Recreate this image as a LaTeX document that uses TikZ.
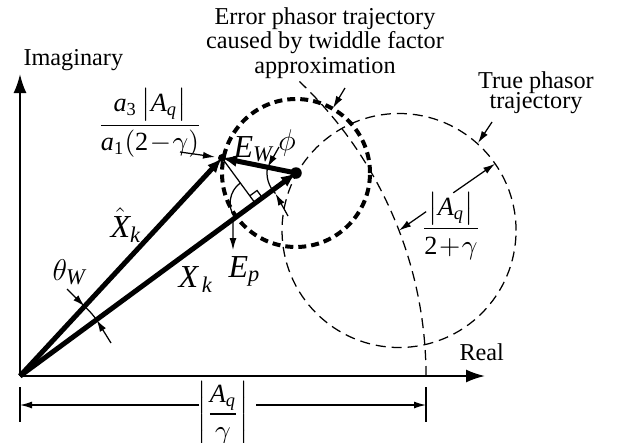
\documentclass[tikz,border=0pt]{standalone}
\usepackage{amsmath}
\usepackage{fontspec}
\setmainfont{Liberation Serif}
\usetikzlibrary{arrows.meta,calc}
\newcommand{\vi}[1]{\textit{#1}}
\begin{document}
\begin{tikzpicture}[x=0.4pt,y=0.4pt,
  axis/.style={line width=0.8pt,-{Latex[length=7.6pt,width=5.2pt]}},
  vec/.style={line width=2pt,-{Latex[length=6pt,width=4.8pt]}},
  thinln/.style={line width=0.5pt},
  ptr/.style={line width=0.5pt,-{Latex[length=4.8pt,width=2.8pt]}},
  trajdash/.style={line width=0.5pt,dash pattern=on 4pt off 2.4pt},
  errdash/.style={line width=1.6pt,dash pattern=on 3.2pt off 2pt},
  txt/.style={font=\fontsize{9.7}{9.8}\selectfont, inner sep=0pt},
  mlab/.style={font=\fontsize{12.8}{14}\selectfont, inner sep=0pt},
  flab/.style={font=\fontsize{10.5}{12}\selectfont, inner sep=0pt}]
\useasboundingbox (0,0) rectangle (620,442);
% key points
\coordinate (O) at (20,66);
\coordinate (Ytip) at (20,368);
\coordinate (Xtip) at (485,66);
\coordinate (H) at (222,284);
\coordinate (P) at (296,269);
\coordinate (C) at ($(O)+(21:162.4pt)$);
\coordinate (R0) at ($(O)+(0:162.4pt)$);
\coordinate (F) at ($(O)!(H)!(P)$);
% trajectories
\draw[trajdash] (R0) arc[start angle=0,end angle=46.5,radius=162.4pt];
\draw[trajdash] (C) circle[radius=46.8pt];
\draw[errdash] (P) circle[radius=29.6pt];
% axes
\draw[axis] (O) -- (Ytip);
\draw[axis] (O) -- (Xtip);
\node[txt,anchor=base west] (im) at (23,377) {Imaginary};
\node[txt,anchor=base west] (re) at (459,82) {Real};
% right angle and arcs
\draw[thinln] (H) -- (F);
\coordinate (ra1) at ($(F)!3.6pt!(H)$);
\coordinate (ra2) at ($(F)!3.6pt!(P)$);
\coordinate (ra3) at ($(ra1)+(ra2)-(F)$);
\draw[thinln] (ra1) -- (ra3) -- (ra2);
\coordinate (fa0) at ($(F)+(126.4:10pt)$);
\draw[thinln] (fa0) arc[start angle=126.4,end angle=216.3,radius=10pt];
% phi arc
\coordinate (pa0) at ($(P)+(168.5:11.6pt)$);
\coordinate (pa1) at ($(P)+(225:11.6pt)$);
\draw[thinln] (pa0) arc[start angle=168.5,end angle=225,radius=11.6pt];
\coordinate (pp0) at (279,295);
\coordinate (pp1) at (288,226);
\draw[ptr] (pp0) -- (pa0);
\draw[ptr] (pp1) -- (pa1);
% theta arc
\coordinate (ta0) at ($(O)+(36.3:38pt)$);
\coordinate (ta1) at ($(O)+(47.2:38pt)$);
\draw[thinln] (ta0) arc[start angle=36.3,end angle=47.2,radius=38pt];
\coordinate (tp1) at (67,153);
\coordinate (tp0) at (111,99);
\draw[ptr] (tp1) -- (ta1);
\draw[ptr] (tp0) -- (ta0);
% vectors
\draw[vec] (O) -- (H);
\draw[vec] (O) -- (P);
\draw[vec] (P) -- (H);
\fill (H) circle[radius=1.6pt];
\fill (P) circle[radius=2.3pt];
% E_p
\coordinate (Ep0) at ($(O)!{(233-20)/276}!(P)$);
\coordinate (Ep1) at (233,192);
\draw[ptr] (Ep0) -- (Ep1);
% labels
\node[mlab,anchor=base west] (ew) at (233,285) {$\vi{E}_{\vi{W}}$};
\node[mlab] (phi) at (287,299) {$\phi$};
\node[mlab,anchor=base west] (ep) at (228,165) {$\vi{E}_{\vi{p}}$};
\node[mlab,anchor=base west] (xh) at (110,205) {$\hat{\vi{X}}_{\vi{k}}$};
\node[mlab,anchor=base west] (xk) at (178,155) {$\vi{X}_{\,\vi{k}}$};
\node[mlab,anchor=base west] (th) at (52,162) {$\theta_{\vi{W}}$};
\node[flab] (f1) at (150,319) {$\dfrac{\vi{a}_{\text{3}}\,\bigl|\vi{A}_{\vi{q}}\bigr|}{\vi{a}_{\text{1}}(\text{2}\!-\!\gamma)}$};
\coordinate (f1p) at (180,290);
\coordinate (f1t) at (215,285);
\draw[ptr] (f1p) -- (f1t);
% error text
\node[txt,align=center] (errtxt) at (325,399) {Error phasor trajectory\\caused by twiddle factor\\approximation};
\coordinate (ea0) at (345,354);
\coordinate (ea1) at (333,334);
\draw[ptr] (ea0) -- (ea1);
% true text
\node[txt,align=center,font={\fontsize{9.7}{8}\selectfont\lineskiplimit=-5pt}] (truetxt) at (536,349) {True phasor\\trajectory};
\coordinate (ta0b) at (492,320);
\coordinate (ta1b) at (478,299);
\draw[ptr] (ta0b) -- (ta1b);
% radius of true circle
\coordinate (rr0) at ($(C)+(34.8:26.4pt)$);
\coordinate (rr1) at ($(C)+(34.8:46.8pt)$);
\coordinate (rr2) at ($(C)+(34.8:13.2pt)$);
\draw[ptr] (rr0) -- (rr1);
\draw[ptr] (rr2) -- (C);
\node[flab] (f2) at (451,216) {$\dfrac{\bigl|\vi{A}_{\vi{q}}\bigr|}{\text{2}\!+\!\gamma}$};
% dimension line
\coordinate (dL) at (20,37);
\coordinate (dR) at (426,37);
\coordinate (dLm) at (199,37);
\coordinate (dRm) at (256,37);
\draw[ptr] (dLm) -- (dL);
\draw[ptr] (dRm) -- (dR);
\coordinate (tk0) at (20,55);
\coordinate (tk1) at (20,20);
\coordinate (tk2) at (426,55);
\coordinate (tk3) at (426,20);
\draw[thinln] (tk0) -- (tk1);
\draw[thinln] (tk2) -- (tk3);
\node[flab] (f3) at (223,28) {$\left|\dfrac{\vi{A}_{\vi{q}}}{\gamma}\right|$};
\end{tikzpicture}
\end{document}
